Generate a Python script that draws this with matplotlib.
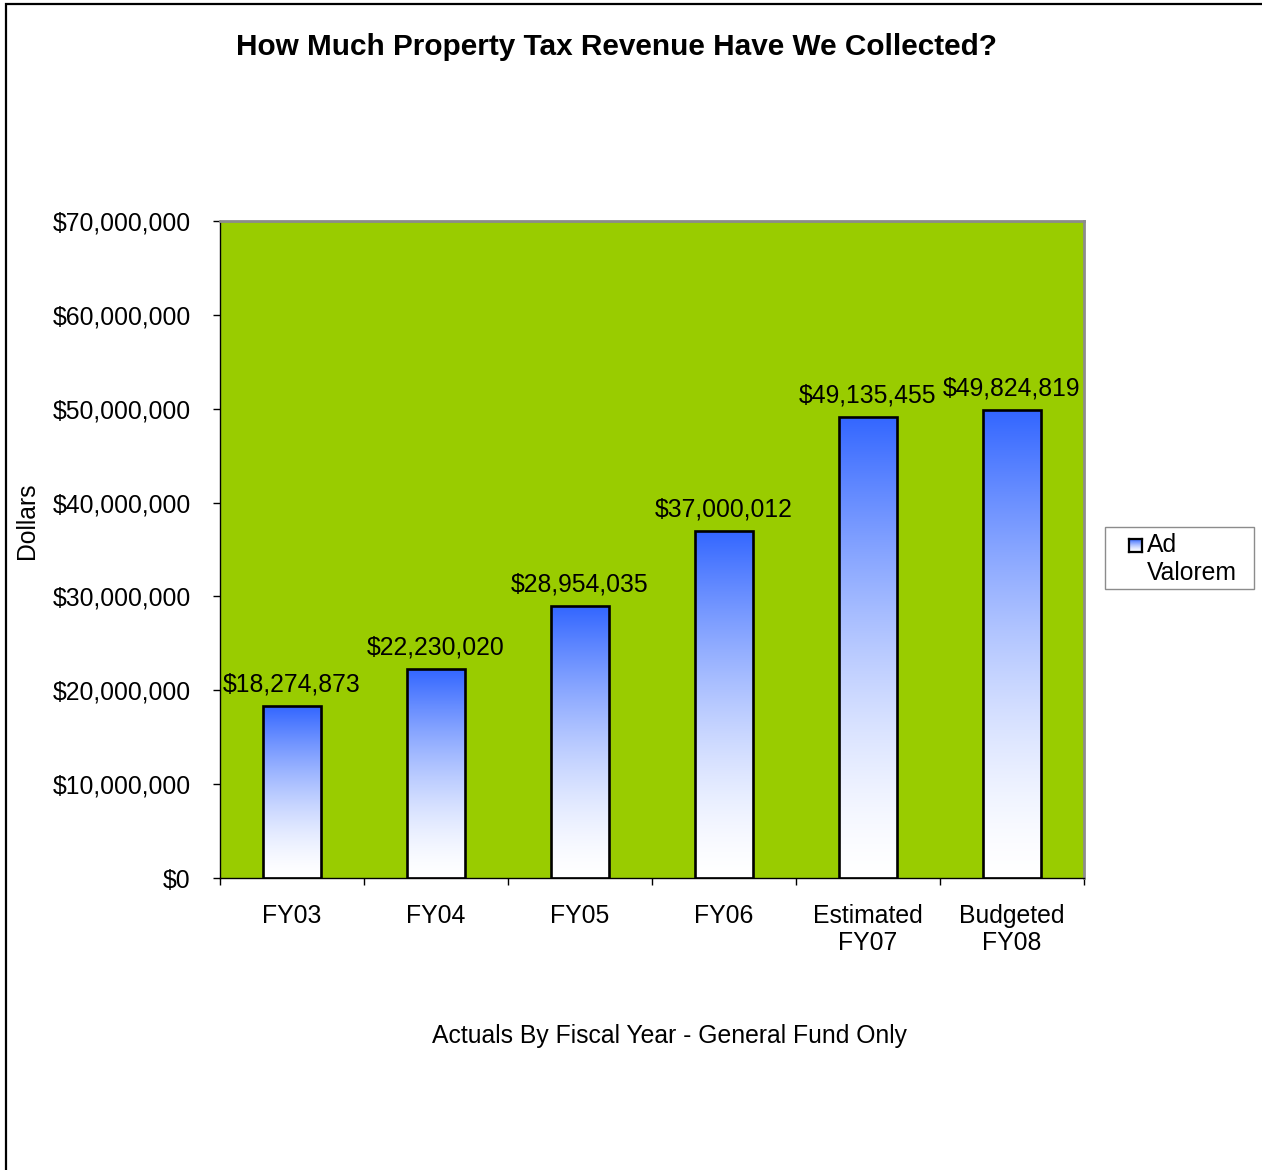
import numpy as np
import matplotlib
matplotlib.use("Agg")
import matplotlib.pyplot as plt
from matplotlib.patches import Rectangle
from matplotlib.ticker import FuncFormatter, FixedLocator

plt.rcParams['font.family'] = ['Liberation Sans', 'DejaVu Sans']

categories = ["FY03", "FY04", "FY05", "FY06", "Estimated\nFY07", "Budgeted\nFY08"]
ad_valorem = [18274873, 22230020, 28954035, 37000012, 49135455, 49824819]
y_ticks = [0, 10000000, 20000000, 30000000, 40000000, 50000000, 60000000, 70000000]

FS = 17.8
W, H = 1262, 1170
fig = plt.figure(figsize=(W / 100, H / 100), dpi=100)

# outer chart frame (runs off the right and bottom edges)
fig.patches.append(Rectangle((6 / W, -0.1), 1.2, 1 - 4 / H + 0.1, transform=fig.transFigure,
                             fill=False, edgecolor='black', linewidth=1.6))

ax = fig.add_axes([220 / W, 1 - 878 / H, (1084 - 220) / W, (878 - 221) / H])
ax.set_facecolor('#99CC00')

# blue-to-white vertical fill used inside each bar
blue = np.array([0x33, 0x66, 0xFF]) / 255.0
n = 256
d = np.linspace(0, 1, n)          # 0 = bar top, 1 = bar bottom
f = (1 - d) ** 1.5
cols = 1 - f[:, None] * (1 - blue[None, :])
grad_img = cols[:, None, :]

x = np.arange(len(categories))
width = 0.4
bars = ax.bar(x, ad_valorem, width=width, color='none', edgecolor='black', linewidth=1.9, zorder=3)
for b in bars:
    x0, w, h = b.get_x(), b.get_width(), b.get_height()
    im = ax.imshow(grad_img, extent=[x0, x0 + w, 0, h], aspect='auto', origin='upper',
                   zorder=2, interpolation='bilinear')
    im.set_clip_path(b)
    ax.annotate(f"${h:,.0f}", (x0 + w / 2, h), xytext=(0, 7), textcoords='offset points',
                ha='center', va='bottom', fontsize=FS)

ax.set_xlim(-0.5, len(categories) - 0.5)
ax.set_ylim(0, 70000000)
ax.set_yticks(y_ticks)
ax.yaxis.set_major_formatter(FuncFormatter(lambda v, p: f"${v:,.0f}"))
ax.tick_params(axis='y', direction='out', length=5, width=1, pad=16, labelsize=FS, color='black')

ax.set_xticks(x)
ax.set_xticklabels(categories, fontsize=FS, linespacing=1.15)
ax.xaxis.set_minor_locator(FixedLocator(np.arange(-0.5, len(categories), 1.0)))
ax.tick_params(axis='x', which='major', length=0, pad=19)
ax.tick_params(axis='x', which='minor', direction='out', length=5, width=1, color='black')

for s in ('left', 'bottom'):
    ax.spines[s].set_color('black')
    ax.spines[s].set_linewidth(1.0)
for s in ('top', 'right'):
    ax.spines[s].set_color('#8c8c8c')
    ax.spines[s].set_linewidth(2.0)

fig.text(617 / W, 1 - 47 / H, "How Much Property Tax Revenue Have We Collected?",
         ha='center', va='center', fontsize=21.4, fontweight='bold')
fig.text(27 / W, 1 - 521 / H, "Dollars", rotation=90, ha='center', va='center', fontsize=FS)
fig.text(669 / W, 1 - 1036 / H, "Actuals By Fiscal Year - General Fund Only",
         ha='center', va='center', fontsize=FS)

# legend box
fig.patches.append(Rectangle((1105 / W, 1 - 589 / H), (1254 - 1105) / W, (589 - 527) / H,
                             transform=fig.transFigure, facecolor='white',
                             edgecolor='#8c8c8c', linewidth=1.0))
lax = fig.add_axes([1129 / W, 1 - 552 / H, 13 / W, 13 / H])
lax.set_zorder(5)
lax.imshow(grad_img, extent=[0, 1, 0, 1], aspect='auto', origin='upper')
lax.set_xticks([]); lax.set_yticks([])
for s in lax.spines.values():
    s.set_linewidth(1.6)
    s.set_color('black')
fig.text(1147 / W, 1 - 545 / H, "Ad", ha='left', va='center', fontsize=FS)
fig.text(1147 / W, 1 - 573 / H, "Valorem", ha='left', va='center', fontsize=FS)

fig.savefig("out.png", dpi=100)
